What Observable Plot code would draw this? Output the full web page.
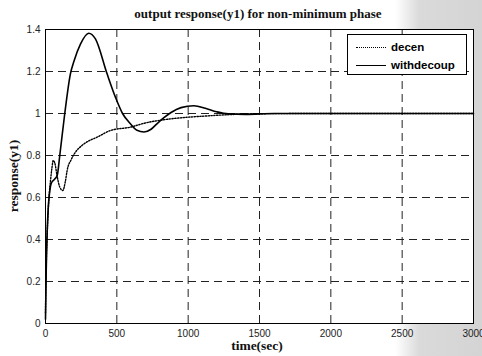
<!DOCTYPE html>
<html>
<head>
<meta charset="utf-8">
<script src="https://cdn.jsdelivr.net/npm/d3@7"></script>
<script src="https://cdn.jsdelivr.net/npm/@observablehq/plot@0.6"></script>
<style>
  html, body { margin: 0; padding: 0; background: #fff; }
  #wrap {
    position: relative; width: 482px; height: 356px; overflow: hidden;
    background: linear-gradient(90deg, #ffffff 0%, #ffffff 82%, #dadada 87%, #d4d4d4 100%);
  }
  #wrap svg { position: absolute; left: 0; top: 0; }
  .title { position: absolute; left: 0; width: 482px; top: 6px; text-align: center;
    font: bold 13px "Liberation Serif", "Times New Roman", serif; color: #111; padding-left: 34px; box-sizing: border-box; }
  .xlab { position: absolute; left: 0; width: 482px; top: 338px; text-align: center;
    font: bold 13.5px "Liberation Serif", "Times New Roman", serif; color: #111; padding-left: 32px; box-sizing: border-box; }
  .ylab { position: absolute; left: 14px; top: 176px; transform: translate(-50%, -50%) rotate(-90deg);
    font: bold 13.5px "Liberation Serif", "Times New Roman", serif; color: #111; white-space: nowrap; }
  .legend { position: absolute; left: 347px; top: 34px; width: 120px; height: 41px;
    border: 1px solid #000; background: #fff; box-sizing: border-box;
    font: bold 11.5px "Liberation Sans", Arial, sans-serif; color: #000; }
  .legend .row { position: absolute; left: 8px; height: 14px; display: flex; align-items: center; }
  .legend .sample { width: 30px; margin-right: 5px; }
</style>
</head>
<body>
<div id="wrap"></div>
<script>
const titleText = "output response(y1) for non-minimum phase";
const xLabel = "time(sec)";
const yLabel = "response(y1)";
const seriesNames = ["decen", "withdecoup"];

const xTicks = [0, 500, 1000, 1500, 2000, 2500, 3000];
const yTicks = [0, 0.2, 0.4, 0.6, 0.8, 1, 1.2, 1.4];

const tDecen = [0, 3, 7, 15, 23, 35, 45, 54, 65, 82, 100, 121, 140, 152, 180, 210, 256, 300, 361, 455, 594, 700, 827, 991, 1100, 1270, 1500, 2000, 3000];
const yDecen = [0.05, 0.2, 0.33, 0.48, 0.585, 0.68, 0.74, 0.776, 0.765, 0.70, 0.65, 0.633, 0.68, 0.73, 0.78, 0.816, 0.848, 0.868, 0.887, 0.919, 0.935, 0.955, 0.97, 0.982, 0.987, 0.994, 0.999, 1.0, 1.0];

const tDecoup = [0, 5, 12, 20, 28, 40, 60, 82, 100, 135, 175, 200, 245, 303, 350, 431, 490, 540, 594, 641, 690, 740, 781, 830, 880, 950, 1040, 1120, 1200, 1280, 1400, 1600, 2000, 2500, 3000];
const yDecoup = [0.02, 0.25, 0.44, 0.56, 0.62, 0.667, 0.685, 0.705, 0.80, 1.0, 1.19, 1.25, 1.33, 1.382, 1.355, 1.19, 1.078, 1.0, 0.952, 0.92, 0.912, 0.925, 0.951, 0.98, 1.005, 1.028, 1.037, 1.025, 1.008, 0.998, 0.996, 1.0, 1.0, 1.0, 1.0];

const decen = tDecen.map((t, i) => ({t, v: yDecen[i]}));
const decoup = tDecoup.map((t, i) => ({t, v: yDecoup[i]}));

const fmtY = d => d === 0 ? "0" : d3.format("~g")(d);

const chart = Plot.plot({
  width: 482, height: 356,
  marginLeft: 45, marginRight: 9, marginTop: 29, marginBottom: 33,
  style: {background: "transparent", fontFamily: "'Liberation Sans', Arial, sans-serif", fontSize: "10px", color: "#222"},
  x: {domain: [0, 3000], label: null},
  y: {domain: [0, 1.4], label: null},
  marks: [
    Plot.frame({fill: "white", stroke: "none"}),
    Plot.ruleX(xTicks.slice(1, -1), {stroke: "#222", strokeWidth: 1, strokeDasharray: "8,5"}),
    Plot.ruleY(yTicks.slice(1, -1), {stroke: "#222", strokeWidth: 1, strokeDasharray: "8,5"}),
    Plot.line(decen, {x: "t", y: "v", stroke: "#000", strokeWidth: 1.4, strokeDasharray: "1.3,1.5", curve: "monotone-x"}),
    Plot.line(decoup, {x: "t", y: "v", stroke: "#000", strokeWidth: 1.6, curve: "monotone-x"}),
    Plot.frame({stroke: "#000", strokeWidth: 1}),
    Plot.axisX(xTicks, {tickSize: 0, tickPadding: 6, tickFormat: d => String(d)}),
    Plot.axisY(yTicks, {tickSize: 0, tickPadding: 5, tickFormat: fmtY})
  ]
});

const wrap = document.getElementById("wrap");
wrap.appendChild(chart);

function addDiv(cls, text) {
  const d = document.createElement("div");
  d.className = cls; d.textContent = text; wrap.appendChild(d); return d;
}
addDiv("title", titleText);
addDiv("xlab", xLabel);
addDiv("ylab", yLabel);

const lg = document.createElement("div");
lg.className = "legend";
const styles = ["border-top: 1.5px dotted #000", "border-top: 1.5px solid #000"];
seriesNames.forEach((name, i) => {
  const row = document.createElement("div");
  row.className = "row";
  row.style.top = (5 + i * 18) + "px";
  const s = document.createElement("span");
  s.className = "sample"; s.style.cssText = styles[i];
  const t = document.createElement("span");
  t.textContent = name;
  row.appendChild(s); row.appendChild(t);
  lg.appendChild(row);
});
wrap.appendChild(lg);
</script>
</body>
</html>
